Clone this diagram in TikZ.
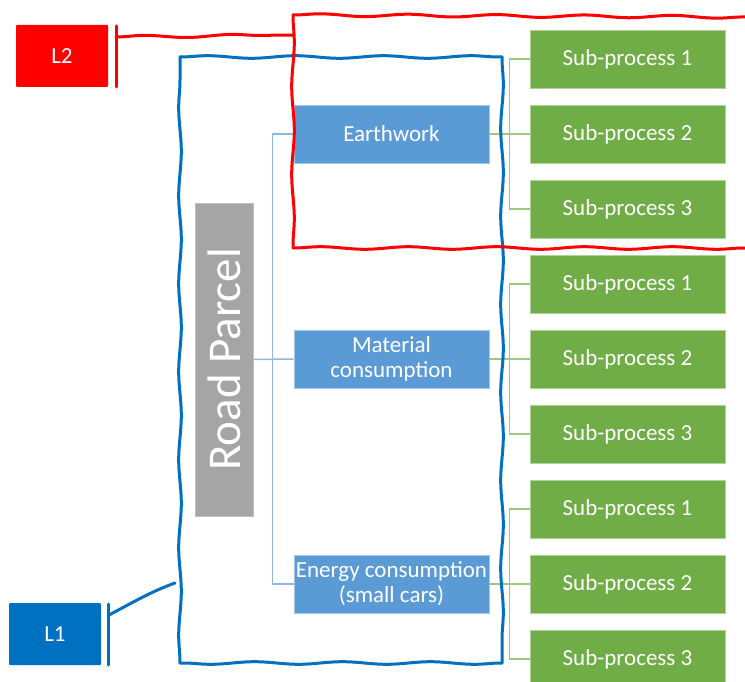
\documentclass[tikz,border=0pt]{standalone}
\usepackage{fontspec}
\setmainfont{Carlito}
\usetikzlibrary{decorations.pathmorphing}

\definecolor{levelred}{HTML}{FF0000}
\definecolor{levelblue}{HTML}{0070C0}
\definecolor{taskblue}{HTML}{5B9BD5}
\definecolor{subgreen}{HTML}{70AD47}
\definecolor{parcelgray}{HTML}{A5A5A5}
\definecolor{linkblue}{HTML}{8DB8E2}
\definecolor{linkgreen}{HTML}{9CC97E}

\begin{document}
\begin{tikzpicture}[x=1pt,y=-1pt,
  catbox/.style={fill=taskblue, draw=taskblue!55!white, line width=0.8pt,
    minimum width=195pt, minimum height=58pt, inner sep=0pt,
    text=white, align=center, font=\fontsize{23}{25}\selectfont},
  subbox/.style={fill=subgreen, draw=subgreen!55!white, line width=0.8pt,
    minimum width=195pt, minimum height=58pt, inner sep=0pt,
    text=white, font=\fontsize{23}{25}\selectfont},
  levelbox/.style={minimum width=92pt, minimum height=62pt, inner sep=0pt,
    text=white, font=\fontsize{23}{25}\selectfont, rounded corners=1pt},
  bluelink/.style={draw=linkblue, line width=1.5pt},
  greenlink/.style={draw=linkgreen, line width=1.5pt},
  stroke/.style={line width=3pt, line cap=round, line join=round},
  sketch/.style={stroke,
    decorate, decoration={snake, amplitude=1.3pt, segment length=88pt}},
]
\useasboundingbox (0,0) rectangle (745,682);
\clip (0,0) rectangle (745,682);

% hierarchy: parcel, categories, sub-processes
\node[fill=parcelgray, draw=parcelgray!70!white, line width=0.8pt,
      minimum width=58pt, minimum height=313pt, inner sep=0pt,
      text=white, font=\fontsize{47}{50}\selectfont]
      (rp) at (224,359.5) {\rotatebox{90}{Road Parcel}};

\node[catbox] (ew) at (391.5,134) {Earthwork};
\node[catbox] (mc) at (391.5,359) {Material\\consumption};
\node[catbox] (en) at (391.5,584) {Energy consumption\\(small cars)};

\foreach \g/\base in {a/59, b/284, c/509} {
  \foreach \k in {1,2,3} {
    \node[subbox] (s\g\k) at (627.5,{\base+75*(\k-1)}) {Sub-process \k};
  }
}

% connectors
\draw[bluelink] (rp.east) -- (mc.west);
\draw[bluelink] (ew.west) -- ++(-21,0) |- (en.west);

\foreach \g/\b in {a/ew, b/mc, c/en} {
  \draw[greenlink] (\b.east) -- (s\g2.west);
  \draw[greenlink] (s\g1.west) -- ++(-20,0) |- (s\g3.west);
}

% level markers
\node[levelbox, fill=levelred] (l2) at (62,56) {L2};
\node[levelbox, fill=levelblue] (l1) at (55,634) {L1};

\coordinate (l2bartop) at (116,26);
\coordinate (l2barbot) at (116,87);
\coordinate (l2tie) at (116,37);
\coordinate (l1bartop) at (108,604);
\coordinate (l1barbot) at (108,665);
\coordinate (l1tie) at (109,615);

% level 1 frame around the road parcel, one stroke per side
\coordinate (p1) at (180,57);
\coordinate (p2) at (502,57);
\coordinate (p3) at (502,663);
\coordinate (p4) at (180,663);
\draw[sketch, levelblue] (p1) -- (p2);
\draw[sketch, levelblue] (p2) -- (p3);
\draw[sketch, levelblue] (p3) -- (p4);
\draw[sketch, levelblue] (p4) -- (p1);
\coordinate (l1end) at (175,583);
\draw[stroke, levelblue] (l1bartop) -- (l1barbot);
\draw[stroke, levelblue]
  (l1tie) .. controls (130,604) and (150,592) .. (l1end);

% level 2 frame around the earthwork branch
\coordinate (r1) at (750,17);
\coordinate (r2) at (293,15);
\coordinate (r3) at (293,248);
\coordinate (r4) at (750,248);
\draw[sketch, levelred] (r2) -- (r1);
\draw[sketch, levelred] (r2) -- (r3);
\draw[sketch, levelred] (r3) -- (r4);
\coordinate (l2end) at (293,35);
\draw[stroke, levelred] (l2bartop) -- (l2barbot);
\draw[sketch, levelred] (l2tie) -- (l2end);
\end{tikzpicture}
\end{document}
